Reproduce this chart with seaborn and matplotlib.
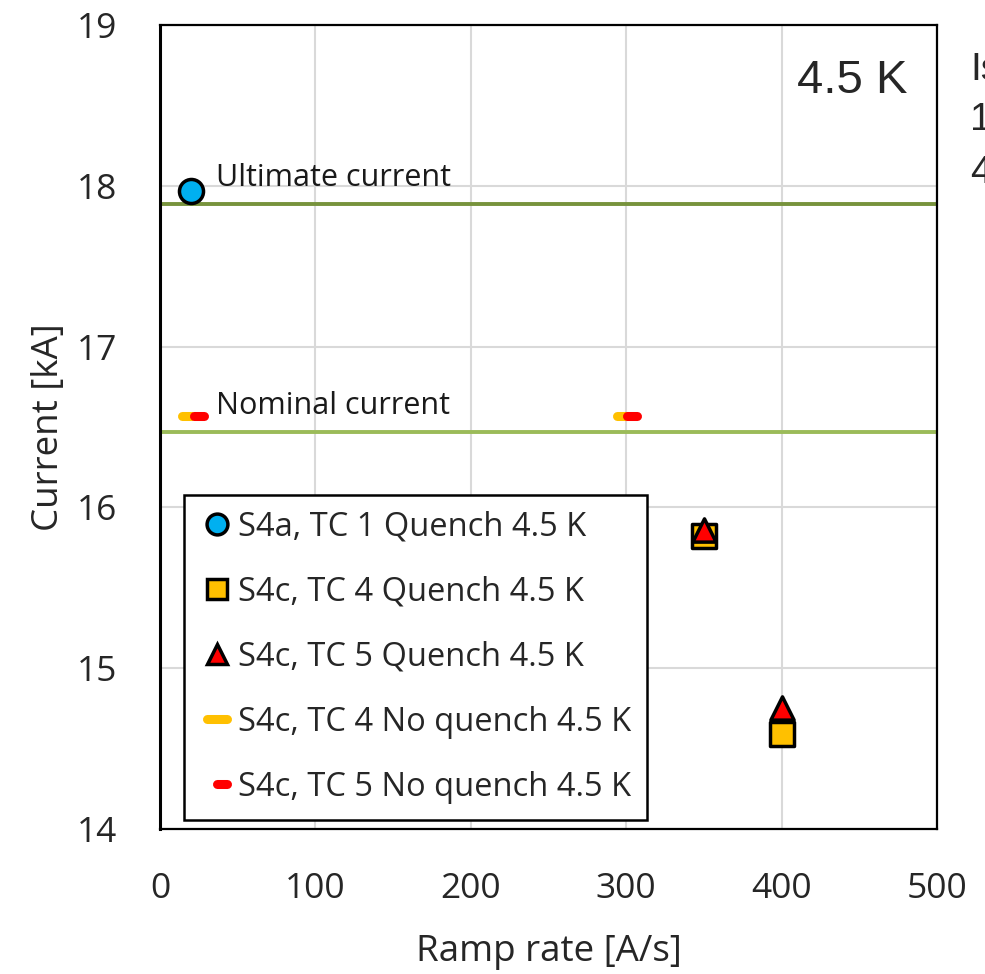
import numpy as np
import pandas as pd
import matplotlib
matplotlib.use("Agg")
import matplotlib.pyplot as plt
from matplotlib.markers import MarkerStyle
from matplotlib.lines import Line2D
from matplotlib.path import Path
import seaborn as sns

# ---- data ----
tc1_q_x = [20]
tc1_q_y = [17.97]
tc4_q_x = [350, 400]
tc4_q_y = [15.82, 14.59]
tc5_q_x = [350, 400]
tc5_q_y = [15.86, 14.75]
tc4_nq_x = [17.5, 297]
tc4_nq_y = [16.57, 16.57]
tc5_nq_x = [25, 304]
tc5_nq_y = [16.57, 16.57]
ultimate_current = 17.89
nominal_current = 16.47

labels = ["S4a, TC 1 Quench 4.5 K", "S4c, TC 4 Quench 4.5 K",
          "S4c, TC 5 Quench 4.5 K", "S4c, TC 4 No quench 4.5 K",
          "S4c, TC 5 No quench 4.5 K"]

sns.set_theme(style="white")
plt.rcParams['font.family'] = ['Open Sans', 'DejaVu Sans']

fig = plt.figure(figsize=(9.85, 9.74), dpi=100)
ax = fig.add_axes([0.1624, 0.1489, 0.7889, 0.8254])

grid_c = "#D9D9D9"
ax.set_xlim(0, 500)
ax.set_ylim(14, 19)
ax.set_xticks(np.arange(0, 501, 100))
ax.set_yticks(np.arange(14, 20, 1))
ax.grid(True, color=grid_c, lw=1.5, zorder=0)
ax.set_axisbelow(True)

ax.axhline(ultimate_current, color="#77933C", lw=2.8, zorder=2)
ax.axhline(nominal_current, color="#9BBB59", lw=2.8, zorder=2)

yellow = "#FFC000"
red = "#FF0000"
blue = "#00B0F0"

def dash_series(x, y, color, size, z):
    df = pd.DataFrame({"x": x, "y": y})
    before = len(ax.collections)
    sns.scatterplot(data=df, x="x", y="y", ax=ax, marker='_', s=size,
                    color=color, linewidth=6.5, zorder=z, legend=False)
    for c in ax.collections[before:]:
        c.set_capstyle('round')
        c.set_edgecolor(color)

dash_series(tc4_nq_x, tc4_nq_y, yellow, 52, 3)
dash_series(tc5_nq_x, tc5_nq_y, red, 52, 4)

sns.scatterplot(x=tc4_q_x, y=tc4_q_y, ax=ax, marker='s', s=300, color=yellow,
                edgecolor='black', linewidth=2.5, zorder=5, legend=False)
sns.scatterplot(x=tc5_q_x, y=tc5_q_y, ax=ax, marker='^', s=280, color=red,
                edgecolor='black', linewidth=2.5, zorder=6, legend=False)
sns.scatterplot(x=tc1_q_x, y=tc1_q_y, ax=ax, marker='o', s=300, color=blue,
                edgecolor='black', linewidth=2.5, zorder=7, legend=False)

ax.text(36, 18.05, "Ultimate current", fontsize=22, ha='left', va='center', color='#1a1a1a')
ax.text(36, 16.63, "Nominal current", fontsize=22, ha='left', va='center', color='#1a1a1a')
ax.text(0.962, 0.93, "4.5 K", transform=ax.transAxes, fontsize=34, ha='right', va='center',
        family=['Liberation Sans', 'DejaVu Sans'])

fig.text(970 / 985, 1 - 70 / 974, "Is", fontsize=28, ha='left', va='center',
         family=['Liberation Sans', 'DejaVu Sans'])
fig.text(970 / 985, 1 - 120 / 974, "1", fontsize=28, ha='left', va='center',
         family=['Liberation Sans', 'DejaVu Sans'])
fig.text(970 / 985, 1 - 173 / 974, "4", fontsize=28, ha='left', va='center',
         family=['Liberation Sans', 'DejaVu Sans'])

ax.set_xlabel("Ramp rate [A/s]", fontsize=26.5, labelpad=20)
ax.set_ylabel("Current [kA]", fontsize=26.5, labelpad=7)
ax.tick_params(axis='x', length=0, pad=31, labelsize=25.5)
ax.tick_params(axis='y', length=0, pad=31, labelsize=25.5)

for s in ax.spines.values():
    s.set_color('black')
    s.set_linewidth(1.6)
ax.spines['left'].set_linewidth(2.2)

full_dash = MarkerStyle(Path([(-1, 0), (1, 0)]), capstyle='round')
half_dash = MarkerStyle(Path([(0, 0), (1, 0)]), capstyle='round')

handles = [
    Line2D([], [], ls='none', marker='o', markersize=15, markerfacecolor=blue,
           markeredgecolor='black', markeredgewidth=2.5),
    Line2D([], [], ls='none', marker='s', markersize=14, markerfacecolor=yellow,
           markeredgecolor='black', markeredgewidth=2.5),
    Line2D([], [], ls='none', marker='^', markersize=15, markerfacecolor=red,
           markeredgecolor='black', markeredgewidth=2.5),
    Line2D([], [], ls='none', marker=full_dash, markersize=14,
           markeredgecolor=yellow, markerfacecolor='none', markeredgewidth=6.5),
    Line2D([], [], ls='none', marker=half_dash, markersize=14,
           markeredgecolor=red, markerfacecolor='none', markeredgewidth=6.5),
]
leg = ax.legend(handles, labels, loc='upper left', bbox_to_anchor=(0.031, 0.416),
                fontsize=23.5, frameon=True, fancybox=False, edgecolor='black',
                framealpha=1, handlelength=1.0, handletextpad=0.15,
                labelspacing=0.98, borderpad=0.5, borderaxespad=0)
leg.get_frame().set_linewidth(1.8)
leg.set_zorder(10)

fig.savefig("out.png", dpi=100)
